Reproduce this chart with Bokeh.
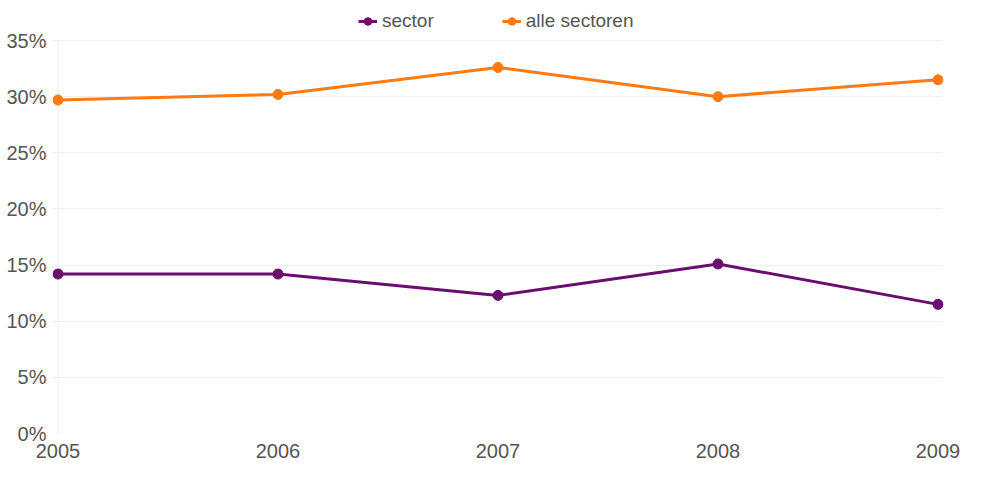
from bokeh.plotting import figure
from bokeh.models import Legend, LegendItem, FixedTicker, PrintfTickFormatter, Range1d
from bokeh.embed import file_html
from bokeh.resources import INLINE

years = [2005, 2006, 2007, 2008, 2009]
sector = [14.2, 14.2, 12.3, 15.1, 11.5]
alle_sectoren = [29.7, 30.2, 32.6, 30.0, 31.5]
y_ticks = [0, 5, 10, 15, 20, 25, 30, 35]
series_names = ["sector", "alle sectoren"]

PURPLE = "#6a0d6e"
ORANGE = "#ff7a12"
TEXT = "#555555"
FONT = "Liberation Sans"

W, H = 965, 462
BL, BR, BT, BB = 52, 22, 2, 29
frame_h = H - BT - BB            # 431
px_per_unit = 393 / 35.0         # 35% gridline 38px below frame top
y_top = 35 + 38 / px_per_unit
x_pad = 0.025

p = figure(width=W, height=H, output_backend="svg", toolbar_location=None,
           x_range=Range1d(years[0] - x_pad, years[-1] + x_pad), y_range=Range1d(0, y_top),
           min_border_left=BL, min_border_right=BR, min_border_top=BT, min_border_bottom=BB)
p.outline_line_color = None
p.background_fill_color = "white"
p.border_fill_color = "white"

# faint vertical base line at the first year
p.segment(x0=[years[0]], y0=[y_ticks[0]], x1=[years[0]], y1=[y_ticks[-1]],
          line_color="#eeeeee", line_width=1)

r1l = p.line(years, sector, line_color=PURPLE, line_width=3)
r1s = p.scatter(years, sector, size=10, fill_color=PURPLE, line_color=PURPLE)
r2l = p.line(years, alle_sectoren, line_color=ORANGE, line_width=3)
r2s = p.scatter(years, alle_sectoren, size=10, fill_color=ORANGE, line_color=ORANGE)

p.xaxis.ticker = FixedTicker(ticks=years)
p.yaxis.ticker = FixedTicker(ticks=y_ticks)
p.yaxis.formatter = PrintfTickFormatter(format="%d%%")
for ax in (p.xaxis, p.yaxis):
    ax.major_tick_line_color = None
    ax.minor_tick_line_color = None
    ax.axis_line_color = None
    ax.major_label_text_font = FONT
    ax.major_label_text_font_size = "20px"
    ax.major_label_text_color = TEXT
p.yaxis.major_label_standoff = 0
p.xaxis.major_label_standoff = 4
p.xgrid.grid_line_color = None
p.ygrid.grid_line_color = "#efefef"
p.ygrid.grid_line_width = 1

legend = Legend(items=[LegendItem(label=series_names[0], renderers=[r1l, r1s]),
                       LegendItem(label=series_names[1], renderers=[r2l, r2s])],
                orientation="horizontal", location=(306, frame_h - 30),
                label_text_font=FONT, label_text_font_size="19px", label_text_color=TEXT,
                border_line_color=None, background_fill_alpha=0,
                spacing=68, glyph_width=19, label_standoff=5, padding=2, margin=0)
p.add_layout(legend, "center")

open("out.html", "w").write(file_html(p, INLINE))
